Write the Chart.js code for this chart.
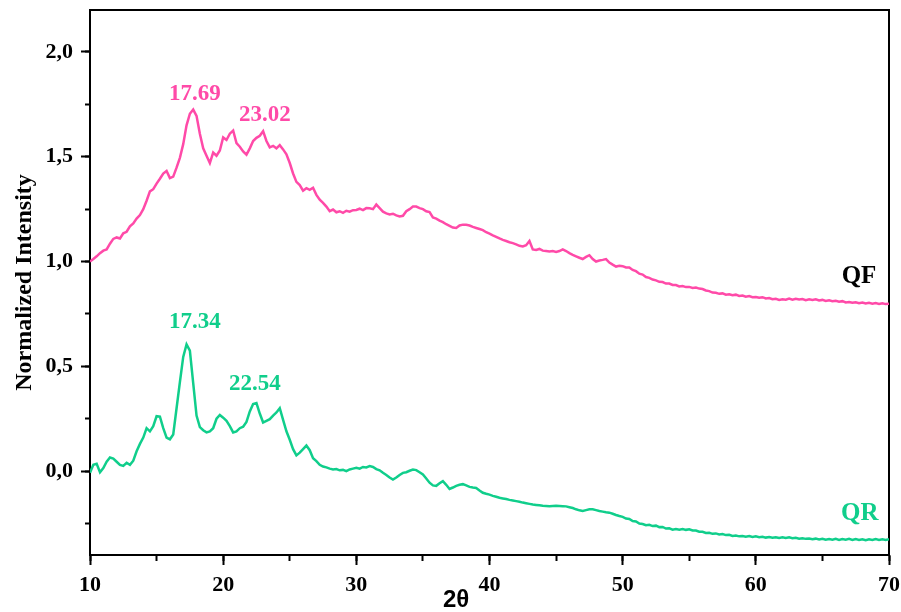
<!DOCTYPE html>
<html>
<head>
<meta charset="utf-8">
<title>XRD QF / QR</title>
<script src="https://cdn.jsdelivr.net/npm/chart.js@4"></script>
<style>
  html, body { margin: 0; padding: 0; background: #fff; }
  #wrap { width: 901px; height: 612px; }
</style>
</head>
<body>
<div id="wrap"><canvas id="xrdChart" width="901" height="612"></canvas></div>
<script>
// 2θ grid: 10 -> 70, one reading every 0.25°
const thetaStart = 10;
const thetaStep = 0.25;

// QF intensity (pink)
const qfIntensity = [
    1.000, 1.012, 1.025, 1.040, 1.052, 1.058, 1.085, 1.108, 1.115, 1.110, 1.135, 1.142, 1.168, 1.182, 1.205, 1.222, 1.250, 1.290, 1.335, 1.345,
    1.372, 1.395, 1.420, 1.432, 1.398, 1.405, 1.448, 1.495, 1.560, 1.650, 1.705, 1.725, 1.695, 1.610, 1.540, 1.505, 1.470, 1.520, 1.505, 1.530,
    1.592, 1.580, 1.610, 1.625, 1.565, 1.548, 1.525, 1.510, 1.540, 1.575, 1.590, 1.600, 1.622, 1.575, 1.545, 1.552, 1.540, 1.555, 1.535, 1.512,
    1.470, 1.420, 1.380, 1.365, 1.338, 1.350, 1.342, 1.352, 1.318, 1.295, 1.280, 1.262, 1.240, 1.248, 1.235, 1.240, 1.232, 1.242, 1.238, 1.245,
    1.246, 1.252, 1.245, 1.255, 1.254, 1.250, 1.272, 1.255, 1.238, 1.230, 1.225, 1.228, 1.220, 1.215, 1.218, 1.240, 1.250, 1.262, 1.262, 1.255,
    1.250, 1.240, 1.236, 1.210, 1.205, 1.195, 1.188, 1.178, 1.170, 1.162, 1.160, 1.172, 1.176, 1.175, 1.172, 1.165, 1.160, 1.155, 1.150, 1.140,
    1.133, 1.125, 1.118, 1.110, 1.103, 1.098, 1.092, 1.088, 1.082, 1.075, 1.072, 1.078, 1.098, 1.058, 1.055, 1.060, 1.052, 1.050, 1.048, 1.050,
    1.046, 1.050, 1.058, 1.050, 1.040, 1.032, 1.025, 1.018, 1.012, 1.022, 1.030, 1.012, 1.000, 1.005, 1.008, 1.012, 0.995, 0.985, 0.976, 0.980,
    0.978, 0.972, 0.972, 0.960, 0.954, 0.942, 0.938, 0.926, 0.922, 0.914, 0.910, 0.903, 0.902, 0.895, 0.895, 0.888, 0.888, 0.881, 0.883, 0.878,
    0.879, 0.874, 0.876, 0.871, 0.869, 0.862, 0.859, 0.852, 0.851, 0.846, 0.848, 0.842, 0.844, 0.839, 0.842, 0.836, 0.838, 0.832, 0.835, 0.830,
    0.831, 0.827, 0.830, 0.824, 0.826, 0.820, 0.822, 0.817, 0.820, 0.818, 0.823, 0.818, 0.822, 0.819, 0.821, 0.816, 0.820, 0.817, 0.820, 0.814,
    0.817, 0.812, 0.815, 0.811, 0.813, 0.808, 0.811, 0.805, 0.807, 0.803, 0.806, 0.801, 0.804, 0.800, 0.803, 0.799, 0.802, 0.798, 0.801, 0.797,
    0.799
];

// QR intensity (green)
const qrIntensity = [
    -0.008, 0.030, 0.035, -0.005, 0.015, 0.045, 0.065, 0.060, 0.045, 0.030, 0.025, 0.040, 0.030, 0.050, 0.095, 0.130, 0.160, 0.205, 0.190, 0.215,
    0.262, 0.260, 0.205, 0.160, 0.152, 0.175, 0.300, 0.425, 0.545, 0.605, 0.575, 0.420, 0.265, 0.210, 0.195, 0.185, 0.190, 0.205, 0.250, 0.268,
    0.255, 0.240, 0.215, 0.185, 0.190, 0.205, 0.212, 0.235, 0.285, 0.320, 0.325, 0.275, 0.232, 0.240, 0.248, 0.265, 0.280, 0.300, 0.245, 0.190,
    0.150, 0.105, 0.075, 0.088, 0.105, 0.122, 0.100, 0.062, 0.048, 0.030, 0.022, 0.018, 0.012, 0.008, 0.010, 0.004, 0.006, 0.000, 0.008, 0.012,
    0.016, 0.012, 0.020, 0.018, 0.024, 0.020, 0.010, 0.004, -0.008, -0.018, -0.030, -0.040, -0.030, -0.018, -0.008, -0.005, 0.002, 0.008, 0.005, -0.005,
    -0.016, -0.035, -0.055, -0.068, -0.070, -0.058, -0.048, -0.065, -0.085, -0.078, -0.070, -0.065, -0.062, -0.068, -0.075, -0.078, -0.080, -0.092, -0.103, -0.108,
    -0.112, -0.118, -0.122, -0.127, -0.130, -0.133, -0.137, -0.140, -0.143, -0.146, -0.150, -0.153, -0.156, -0.159, -0.161, -0.163, -0.165, -0.166, -0.167, -0.166,
    -0.165, -0.166, -0.167, -0.168, -0.172, -0.176, -0.182, -0.187, -0.190, -0.186, -0.182, -0.182, -0.186, -0.190, -0.193, -0.196, -0.198, -0.203, -0.209, -0.214,
    -0.218, -0.226, -0.228, -0.238, -0.240, -0.250, -0.252, -0.258, -0.256, -0.262, -0.260, -0.267, -0.266, -0.274, -0.273, -0.279, -0.276, -0.279, -0.276, -0.280,
    -0.277, -0.283, -0.283, -0.289, -0.289, -0.295, -0.294, -0.299, -0.297, -0.302, -0.300, -0.305, -0.304, -0.309, -0.307, -0.311, -0.309, -0.313, -0.310, -0.314,
    -0.311, -0.315, -0.313, -0.317, -0.314, -0.318, -0.315, -0.319, -0.316, -0.319, -0.316, -0.320, -0.318, -0.322, -0.320, -0.323, -0.321, -0.325, -0.322, -0.326,
    -0.323, -0.327, -0.324, -0.327, -0.323, -0.328, -0.324, -0.327, -0.323, -0.328, -0.324, -0.328, -0.325, -0.329, -0.325, -0.328, -0.324, -0.328, -0.325, -0.328,
    -0.325
];

// peak annotations (text + anchor in data units)
const peakTexts = ['17.69', '23.02', '17.34', '22.54'];
const peakX = [17.88, 23.13, 17.88, 22.38];
const peakY = [1.80, 1.70, 0.71, 0.415];
const peakSeries = [0, 0, 1, 1];

// sample names at the right end
const sampleNames = ['QF', 'QR'];
const sampleX = [67.75, 67.8];
const sampleY = [0.928, -0.200];

const PINK = '#FF4AA8';
const GREEN = '#10CE8B';
const SERIF = "'Liberation Serif', 'Times New Roman', serif";

const twoTheta = qfIntensity.map((_, i) => thetaStart + i * thetaStep);
const toPoints = arr => arr.map((v, i) => ({ x: twoTheta[i], y: v }));

function yLabel(v) {
    return v.toFixed(1).replace('.', ',');
}

// no extra layout room for the end labels
function noPad(s) {
    s.paddingTop = 0; s.paddingBottom = 0; s.paddingLeft = 0; s.paddingRight = 0;
}

const textPlugin = {
    id: 'peakText',
    afterDatasetsDraw(chart) {
        const { ctx, scales } = chart;
        ctx.save();
        ctx.textAlign = 'center';
        ctx.textBaseline = 'middle';
        ctx.font = 'bold 23px ' + SERIF;
        peakTexts.forEach((t, i) => {
            ctx.fillStyle = peakSeries[i] === 0 ? PINK : GREEN;
            ctx.fillText(t, scales.x.getPixelForValue(peakX[i]), scales.y.getPixelForValue(peakY[i]));
        });
        ctx.font = 'bold 25px ' + SERIF;
        sampleNames.forEach((t, i) => {
            ctx.fillStyle = i === 0 ? '#000' : GREEN;
            ctx.fillText(t, scales.x.getPixelForValue(sampleX[i]), scales.y.getPixelForValue(sampleY[i]));
        });
        ctx.restore();
    }
};

const tickFont = { family: SERIF, size: 22, weight: 'bold' };

new Chart(document.getElementById('xrdChart').getContext('2d'), {
    type: 'line',
    data: {
        datasets: [
            { label: 'QF', data: toPoints(qfIntensity), borderColor: PINK, borderWidth: 2.5, pointRadius: 0, tension: 0, fill: false },
            { label: 'QR', data: toPoints(qrIntensity), borderColor: GREEN, borderWidth: 2.5, pointRadius: 0, tension: 0, fill: false }
        ]
    },
    options: {
        responsive: false,
        animation: false,
        devicePixelRatio: 1,
        layout: { padding: { top: 10, right: 12, left: 0, bottom: 0 } },
        plugins: { legend: { display: false }, tooltip: { enabled: false } },
        scales: {
            x: {
                type: 'linear', position: 'bottom', min: 10, max: 70, weight: 1,
                ticks: { stepSize: 10, color: '#000', font: tickFont, padding: 7, maxRotation: 0, autoSkip: false, includeBounds: false },
                grid: { drawOnChartArea: false, drawTicks: true, tickLength: 10, tickWidth: 2, tickColor: '#000' },
                border: { display: true, color: '#000', width: 2 },
                title: {
                    display: true, text: '2θ          ', color: '#000',
                    font: { family: "'Liberation Sans', Arial, sans-serif", size: 24, weight: 'bold', lineHeight: 1 },
                    padding: { top: 0, bottom: 0 }
                },
                afterFit: s => { s.height = 57; noPad(s); }
            },
            xMinor: {
                axis: 'x', type: 'linear', position: 'bottom', min: 10, max: 70, weight: 0,
                ticks: { stepSize: 5, display: false, includeBounds: false },
                grid: { drawOnChartArea: false, drawTicks: true, tickLength: 6, tickWidth: 2, tickColor: '#000' },
                border: { display: false },
                afterFit: s => { s.height = 0; noPad(s); }
            },
            xTop: {
                axis: 'x', type: 'linear', position: 'top', min: 10, max: 70,
                ticks: { display: false },
                grid: { drawOnChartArea: false, drawTicks: false },
                border: { display: true, color: '#000', width: 2 },
                afterFit: s => { s.height = 0; noPad(s); }
            },
            y: {
                type: 'linear', position: 'left', min: -0.4, max: 2.2, weight: 1,
                ticks: { stepSize: 0.5, color: '#000', font: tickFont, padding: 8, includeBounds: false, callback: v => yLabel(v) },
                grid: { drawOnChartArea: false, drawTicks: true, tickLength: 9, tickWidth: 2, tickColor: '#000' },
                border: { display: true, color: '#000', width: 2 },
                title: {
                    display: true, text: 'Normalized Intensity', color: '#000',
                    font: { family: SERIF, size: 24, weight: 'bold' },
                    padding: { top: 10, bottom: 0 }
                },
                afterFit: s => { s.width = 90; noPad(s); }
            },
            yMinor: {
                axis: 'y', type: 'linear', position: 'left', min: -0.4, max: 2.2, weight: 0,
                ticks: { stepSize: 0.25, display: false, includeBounds: false },
                grid: { drawOnChartArea: false, drawTicks: true, tickLength: 5, tickWidth: 2, tickColor: '#000' },
                border: { display: false },
                afterFit: s => { s.width = 0; noPad(s); }
            },
            yRight: {
                axis: 'y', type: 'linear', position: 'right', min: -0.4, max: 2.2,
                ticks: { display: false },
                grid: { drawOnChartArea: false, drawTicks: false },
                border: { display: true, color: '#000', width: 2 },
                afterFit: s => { s.width = 0; noPad(s); }
            }
        }
    },
    plugins: [textPlugin]
});
</script>
</body>
</html>
